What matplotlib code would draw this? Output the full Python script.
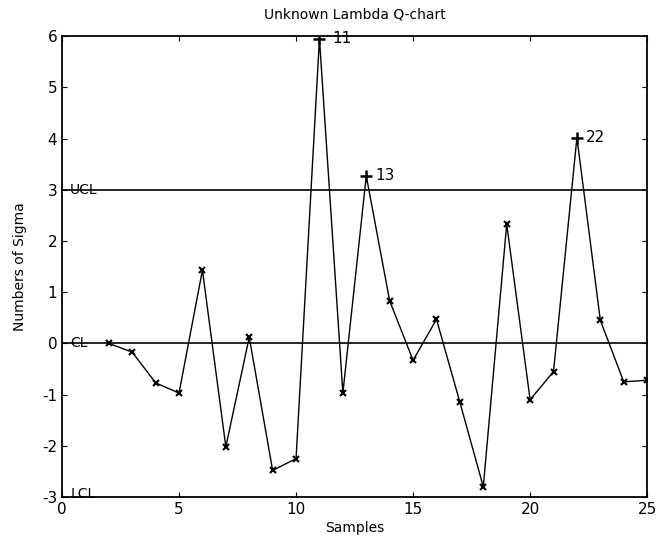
import matplotlib
matplotlib.use("Agg")
import matplotlib.pyplot as plt

plt.rcParams['axes.unicode_minus'] = False

# datos
muestras = list(range(2, 26))
sigmas = [0.0, -0.17, -0.77, -0.97, 1.43, -2.02, 0.12, -2.48, -2.25, 5.95,
          -0.97, 3.27, 0.83, -0.33, 0.47, -1.15, -2.8, 2.33, -1.1, -0.55,
          4.02, 0.45, -0.75, -0.72]
fuera = [11, 13, 22]
ucl, cl, lcl = 3, 0, -3

fig = plt.figure(figsize=(6.56, 5.48), dpi=100)
ax = fig.add_axes([0.0945, 0.093, 0.892, 0.841])

ax.axhline(ucl, color='black', lw=1.2)
ax.axhline(cl, color='black', lw=1.2)
ax.plot(muestras, sigmas, color='black', lw=1)

xs_ok = [m for m in muestras if m not in fuera]
ys_ok = [sigmas[muestras.index(m)] for m in xs_ok]
ax.plot(xs_ok, ys_ok, 'x', color='black', ms=5, mew=1.5)
ys_out = [sigmas[muestras.index(m)] for m in fuera]
ax.plot(fuera, ys_out, '+', color='black', ms=9, mew=1.8)
for m, v in zip(fuera, ys_out):
    dx = 0.55 if m == 11 else 0.4
    ax.text(m + dx, v, str(m), fontsize=11, va='center', ha='left')

ax.text(0.35, ucl, 'UCL', fontsize=10, va='center')
ax.text(0.35, cl, 'CL', fontsize=10, va='center')
ax.text(0.35, lcl + 0.05, 'LCL', fontsize=10, va='center')

ax.set_xlim(0, 25)
ax.set_ylim(-3, 6)
ax.set_xticks(range(0, 26, 5))
ax.set_yticks(range(-3, 7))
ax.tick_params(direction='in', top=True, right=True, labelsize=11)
for s in ax.spines.values():
    s.set_linewidth(1.3)

ax.set_title('Unknown Lambda Q-chart', fontsize=10, pad=13)
ax.set_xlabel('Samples', fontsize=10, labelpad=3)
ax.set_ylabel('Numbers of Sigma', fontsize=10, labelpad=11)

fig.savefig('out.png', dpi=100)
